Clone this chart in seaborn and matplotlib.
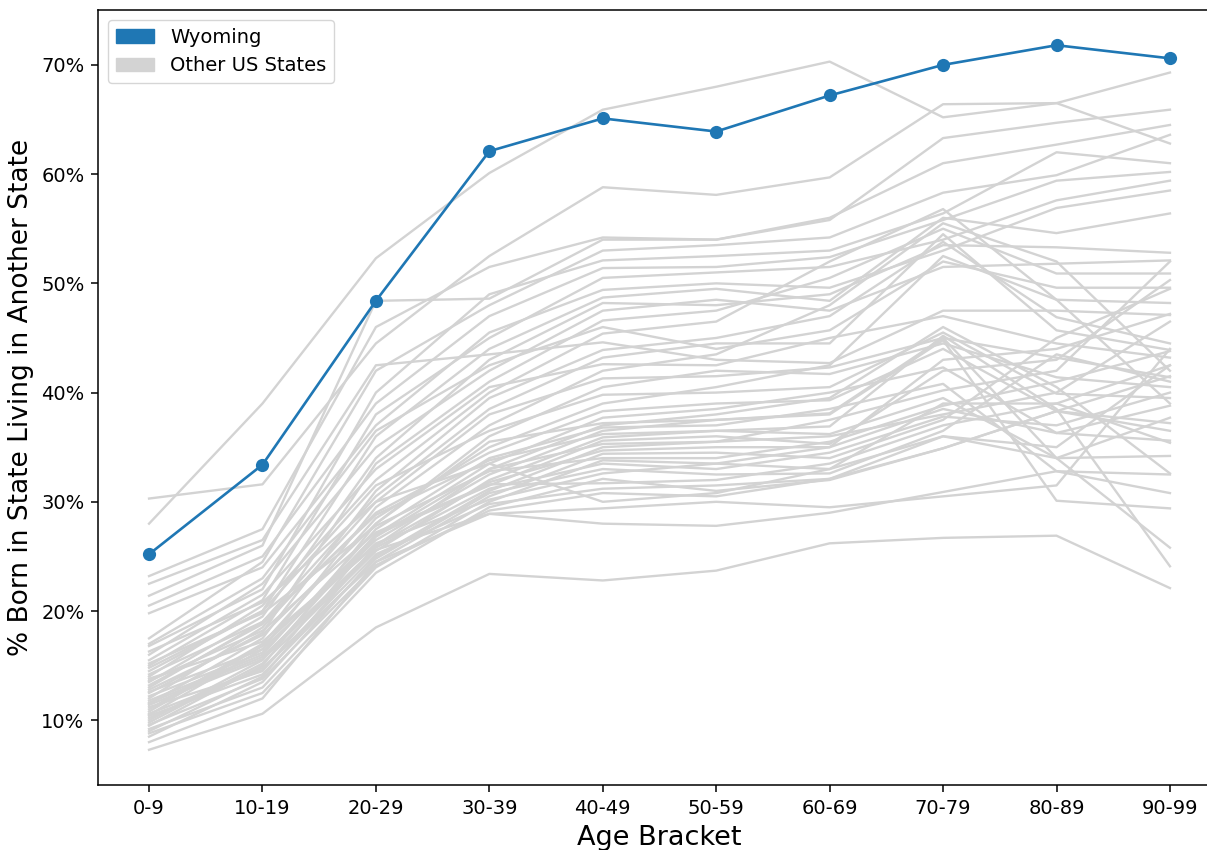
import matplotlib
matplotlib.use("Agg")
import matplotlib.pyplot as plt
import numpy as np
import pandas as pd
import seaborn as sns
from matplotlib.patches import Patch
from matplotlib.ticker import PercentFormatter

# Age brackets on the x axis
brackets = ["0-9", "10-19", "20-29", "30-39", "40-49",
            "50-59", "60-69", "70-79", "80-89", "90-99"]

# Share (%) of people born in Wyoming who now live in another state
wyoming = [25.2, 33.4, 48.4, 62.1, 65.1, 63.9, 67.2, 70.0, 71.8, 70.6]

# Same measure for every other state (one row per state)
other_states = [
    [28.0, 39.0, 52.3, 60.1, 65.9, 68.0, 70.3, 65.2, 66.5, 69.3],
    [30.3, 31.6, 44.5, 52.5, 58.8, 58.1, 59.7, 66.4, 66.5, 62.8],
    [23.2, 27.5, 46.0, 51.5, 54.2, 54.0, 55.8, 63.3, 64.7, 65.9],
    [21.4, 26.0, 48.4, 48.6, 54.0, 54.0, 56.0, 61.0, 62.7, 64.5],
    [17.5, 24.5, 42.0, 48.0, 53.0, 53.5, 54.2, 58.3, 59.9, 63.6],
    [16.8, 22.0, 40.0, 49.0, 52.1, 52.5, 53.0, 56.4, 62.0, 61.0],
    [20.5, 25.0, 39.0, 47.0, 51.4, 51.5, 52.4, 55.8, 59.4, 60.2],
    [15.0, 21.0, 38.0, 45.0, 50.5, 51.0, 51.5, 54.0, 57.6, 59.4],
    [19.8, 24.0, 37.0, 45.5, 49.4, 50.0, 49.6, 53.0, 56.9, 58.5],
    [14.5, 20.0, 36.0, 44.0, 48.7, 49.5, 48.4, 56.0, 54.6, 56.4],
    [13.5, 19.5, 34.0, 43.0, 48.2, 48.0, 49.0, 53.5, 53.3, 52.8],
    [16.0, 22.5, 35.0, 42.0, 47.5, 48.5, 47.5, 51.5, 51.8, 52.1],
    [12.5, 18.0, 33.5, 41.0, 46.6, 47.5, 50.5, 55.0, 50.9, 50.9],
    [17.0, 23.0, 36.5, 42.5, 46.0, 44.0, 45.7, 52.0, 49.6, 49.6],
    [14.0, 20.5, 32.0, 40.0, 45.4, 46.5, 52.0, 56.8, 48.5, 48.2],
    [22.5, 26.5, 42.5, 43.5, 44.6, 43.0, 42.7, 47.5, 47.5, 47.1],
    [11.5, 17.5, 31.0, 39.5, 43.9, 45.0, 47.0, 53.8, 46.9, 44.5],
    [13.0, 19.0, 30.5, 38.5, 43.2, 44.5, 44.5, 54.5, 45.7, 43.9],
    [15.5, 21.5, 33.0, 40.5, 42.6, 42.5, 45.0, 47.0, 44.5, 43.2],
    [10.5, 16.5, 29.5, 37.0, 42.0, 43.5, 48.0, 55.5, 52.0, 42.0],
    [12.0, 18.5, 30.0, 38.0, 41.3, 41.5, 42.3, 45.0, 43.2, 41.4],
    [9.5, 15.0, 28.0, 36.0, 40.5, 42.0, 41.7, 44.5, 41.4, 40.5],
    [14.8, 20.0, 31.5, 36.5, 39.8, 40.0, 40.5, 45.5, 39.9, 39.5],
    [11.0, 17.0, 28.5, 35.0, 39.0, 40.5, 42.5, 52.5, 48.5, 39.0],
    [13.2, 18.8, 29.0, 34.5, 38.3, 39.0, 39.3, 44.0, 38.3, 37.2],
    [10.0, 15.5, 27.0, 33.5, 37.7, 38.5, 40.0, 42.3, 36.3, 35.6],
    [12.8, 17.8, 28.0, 35.5, 37.2, 37.5, 38.1, 45.0, 34.0, 34.2],
    [9.0, 14.0, 26.0, 33.0, 37.0, 38.0, 39.5, 46.0, 40.5, 32.6],
    [11.8, 16.0, 27.5, 34.0, 36.8, 37.0, 38.5, 40.8, 32.8, 30.8],
    [10.8, 16.8, 26.5, 32.5, 36.5, 37.5, 38.0, 44.8, 30.1, 29.4],
    [14.2, 19.0, 28.8, 33.8, 36.2, 36.5, 36.2, 39.5, 34.0, 25.8],
    [9.8, 15.2, 25.5, 32.0, 35.9, 36.5, 36.9, 45.2, 38.5, 24.1],
    [12.2, 16.2, 27.0, 31.5, 35.6, 36.0, 35.3, 42.0, 43.0, 50.3],
    [11.2, 14.5, 26.8, 33.0, 35.3, 35.5, 37.5, 40.2, 42.0, 52.0],
    [8.5, 13.5, 25.0, 31.0, 35.0, 35.5, 36.0, 38.0, 40.0, 46.5],
    [13.8, 17.2, 26.0, 31.8, 34.7, 35.0, 35.0, 43.0, 44.0, 47.2],
    [10.2, 14.8, 24.5, 30.5, 34.4, 34.5, 34.0, 37.5, 45.0, 49.5],
    [15.2, 19.8, 27.8, 32.8, 34.0, 34.0, 35.5, 38.8, 41.0, 43.8],
    [9.2, 13.0, 24.0, 30.0, 33.8, 33.5, 33.0, 39.0, 39.0, 42.5],
    [11.6, 15.8, 25.8, 31.2, 33.5, 33.0, 34.5, 37.8, 37.0, 40.0],
    [10.4, 14.2, 24.8, 30.8, 33.0, 32.5, 32.6, 36.5, 43.5, 41.0],
    [12.6, 16.5, 26.2, 30.2, 32.6, 33.5, 35.0, 38.5, 36.3, 38.8],
    [8.8, 12.5, 23.5, 29.5, 32.1, 31.0, 32.0, 34.9, 38.3, 36.5],
    [13.6, 18.2, 27.2, 31.6, 31.7, 32.0, 33.5, 37.0, 39.0, 35.4],
    [10.6, 14.6, 25.2, 29.8, 31.2, 31.5, 32.1, 36.0, 35.0, 42.5],
    [9.6, 13.8, 24.2, 29.2, 30.8, 30.5, 32.1, 34.9, 38.3, 41.5],
    [16.3, 20.8, 30.0, 33.5, 30.0, 30.8, 33.0, 36.0, 34.0, 37.7],
    [11.4, 15.6, 25.6, 28.9, 29.4, 30.0, 29.5, 30.5, 31.5, 44.0],
    [8.0, 12.0, 24.5, 28.9, 28.0, 27.8, 29.0, 30.9, 32.8, 32.5],
    [7.3, 10.6, 18.5, 23.4, 22.8, 23.7, 26.2, 26.7, 26.9, 22.1],
]

WY_BLUE = "#1f77b4"
OTHER_GRAY = "lightgray"

# Long-form tables for seaborn
pos = np.arange(len(brackets))
others_df = pd.DataFrame(
    [(i, p, v) for i, row in enumerate(other_states) for p, v in zip(pos, row)],
    columns=["state", "bracket", "pct"],
)
wy_df = pd.DataFrame({"bracket": pos, "pct": wyoming})

plt.rcParams.update({
    "font.family": "DejaVu Sans",
    "axes.linewidth": 1.1,
    "xtick.major.width": 1.1,
    "ytick.major.width": 1.1,
    "xtick.major.size": 4.9,
    "ytick.major.size": 4.9,
    "xtick.major.pad": 4.9,
    "ytick.major.pad": 4.9,
})

fig = plt.figure(figsize=(12.07, 8.5), dpi=100)
ax = fig.add_axes([98 / 1207, 1 - 785 / 850, (1221 - 98) / 1207, (785 - 10) / 850])

sns.lineplot(data=others_df, x="bracket", y="pct", units="state", estimator=None,
             color=OTHER_GRAY, linewidth=1.7, ax=ax, legend=False)
sns.lineplot(data=wy_df, x="bracket", y="pct", color=WY_BLUE, linewidth=1.9,
             marker="o", markersize=9.5, markeredgewidth=0, ax=ax, legend=False)

ax.set_xticks(pos)
ax.set_xticklabels(brackets)
ax.set_xlim(-0.45, len(brackets) - 1 + 0.45)
ax.set_yticks([10, 20, 30, 40, 50, 60, 70])
ax.yaxis.set_major_formatter(PercentFormatter(xmax=100, decimals=0))
ax.tick_params(labelsize=14)
ax.set_xlabel("Age Bracket", fontsize=19.5, labelpad=5)
ax.set_ylabel("% Born in State Living in Another State", fontsize=19, labelpad=5)

handles = [Patch(color=WY_BLUE, label="Wyoming"),
           Patch(color=OTHER_GRAY, label="Other US States")]
ax.legend(handles=handles, loc="upper left", fontsize=14)

fig.savefig("out.png", dpi=100)
